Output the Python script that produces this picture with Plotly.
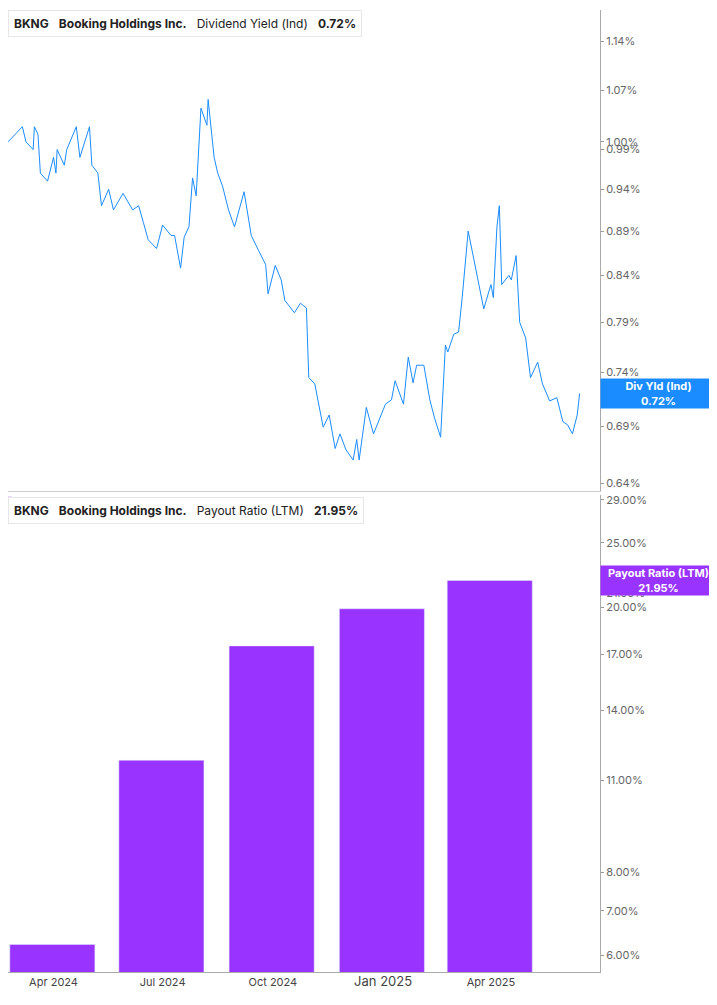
import math
import plotly.graph_objects as go
from plotly.subplots import make_subplots

# dividend yield (%)
yield_dates = [
    "2024-02-23", "2024-03-06", "2024-03-09", "2024-03-15", "2024-03-16", "2024-03-19", "2024-03-21",
    "2024-03-27", "2024-04-01", "2024-04-03", "2024-04-04", "2024-04-10", "2024-04-12", "2024-04-20",
    "2024-04-23", "2024-05-01", "2024-05-03", "2024-05-08", "2024-05-11", "2024-05-17", "2024-05-21",
    "2024-05-29", "2024-06-06", "2024-06-11", "2024-06-15", "2024-06-19", "2024-06-26", "2024-07-01",
    "2024-07-08", "2024-07-11", "2024-07-16", "2024-07-19", "2024-07-23", "2024-07-26", "2024-07-29",
    "2024-08-02", "2024-08-07", "2024-08-08", "2024-08-11", "2024-08-13", "2024-08-16", "2024-08-20",
    "2024-08-25", "2024-08-30", "2024-09-07", "2024-09-13", "2024-09-19", "2024-09-25", "2024-09-27",
    "2024-10-03", "2024-10-08", "2024-10-11", "2024-10-19", "2024-10-24", "2024-10-29", "2024-10-31",
    "2024-11-05", "2024-11-12", "2024-11-17", "2024-11-22", "2024-11-26", "2024-12-01", "2024-12-07",
    "2024-12-10", "2024-12-12", "2024-12-18", "2024-12-24", "2025-01-03", "2025-01-08", "2025-01-11",
    "2025-01-18", "2025-01-22", "2025-01-26", "2025-01-29", "2025-02-04", "2025-02-09", "2025-02-13",
    "2025-02-18", "2025-02-22", "2025-02-24", "2025-03-01", "2025-03-05", "2025-03-08", "2025-03-13",
    "2025-03-18", "2025-03-26", "2025-04-01", "2025-04-03", "2025-04-06", "2025-04-08", "2025-04-10",
    "2025-04-16", "2025-04-18", "2025-04-22", "2025-04-25", "2025-04-30", "2025-05-04", "2025-05-10",
    "2025-05-14", "2025-05-20", "2025-05-26", "2025-05-31", "2025-06-04", "2025-06-08", "2025-06-12",
    "2025-06-14",
]
yield_values = [
    1.000, 1.020, 1.000, 0.990, 1.020, 1.010, 0.960, 0.950, 0.980, 0.960, 0.990, 0.970, 0.990, 1.020,
    0.980, 1.020, 0.970, 0.960, 0.920, 0.940, 0.915, 0.935, 0.915, 0.920, 0.900, 0.880, 0.870, 0.897,
    0.885, 0.885, 0.848, 0.883, 0.895, 0.954, 0.932, 1.045, 1.022, 1.057, 1.010, 0.980, 0.960, 0.944,
    0.915, 0.895, 0.937, 0.885, 0.868, 0.852, 0.820, 0.851, 0.835, 0.813, 0.800, 0.810, 0.805, 0.735,
    0.729, 0.689, 0.700, 0.670, 0.683, 0.669, 0.660, 0.678, 0.660, 0.707, 0.683, 0.710, 0.714, 0.732,
    0.710, 0.755, 0.730, 0.747, 0.747, 0.714, 0.697, 0.680, 0.767, 0.760, 0.778, 0.780, 0.816, 0.890,
    0.856, 0.804, 0.830, 0.816, 0.895, 0.920, 0.830, 0.840, 0.835, 0.862, 0.790, 0.774, 0.735, 0.750,
    0.729, 0.713, 0.716, 0.694, 0.691, 0.683, 0.700, 0.720,
]

# payout ratio (LTM, %) by quarter
payout_dates = ["2024-03-31", "2024-06-30", "2024-09-30", "2024-12-31", "2025-03-31"]
payout_values = [6.23, 11.78, 17.5, 19.9, 21.95]

yield_ticks = [0.64, 0.69, 0.74, 0.79, 0.84, 0.89, 0.94, 0.99, 1.00, 1.07, 1.14]
payout_ticks = [6, 7, 8, 11, 14, 17, 20, 21, 25, 29]
x_ticks = ["2024-04-01", "2024-07-01", "2024-10-01", "2025-01-01", "2025-04-01"]
x_labels = ["Apr 2024", "Jul 2024", "Oct 2024", "<span style='font-size:13px'>Jan 2025</span>", "Apr 2025"]

last_yield = 0.72
last_payout = 21.95

blue = "#1a8cff"
purple = "#9933ff"
grey = "#666666"

fig = make_subplots(rows=2, cols=1, shared_xaxes=True, vertical_spacing=0.004,
                    row_heights=[0.502, 0.498])

fig.add_trace(go.Scatter(x=yield_dates, y=yield_values, mode="lines",
                         line=dict(color=blue, width=1)), row=1, col=1)
fig.add_trace(go.Bar(x=payout_dates, y=payout_values, marker_color=purple,
                     width=71 * 86400000), row=2, col=1)

axis_style = dict(type="log", side="right", showgrid=False, showline=True, linecolor="#aaaaaa",
                  ticks="outside", ticklen=3, tickcolor="#999999",
                  tickfont=dict(family="Inter", size=11, color=grey), zeroline=False)
fig.update_yaxes(**axis_style, tickvals=yield_ticks, ticktext=[f"{v:.2f}%" for v in yield_ticks],
                 range=[-0.198, 0.0748], row=1, col=1)
fig.update_yaxes(**axis_style, tickvals=payout_ticks, ticktext=[f"{v:.2f}%" for v in payout_ticks],
                 range=[0.753, 1.470], row=2, col=1)
fig.update_xaxes(range=["2024-02-23", "2025-07-01"], showgrid=False, zeroline=False)
fig.update_xaxes(showline=True, linecolor="#aaaaaa", tickvals=x_ticks, ticktext=x_labels,
                 tickfont=dict(family="Inter", size=11, color="#444444"), row=2, col=1)
fig.update_xaxes(showline=True, linecolor="#cccccc", row=1, col=1)

# legend boxes
fig.add_annotation(xref="paper", yref="paper", x=0.0, y=1.0, xanchor="left", yanchor="top",
                   text="<b>BKNG</b>   <b>Booking Holdings Inc.</b>   Dividend Yield (Ind)   <b>0.72%</b>",
                   showarrow=False, font=dict(family="Inter", size=12, color="#222222"),
                   bgcolor="white", bordercolor="#e6e6e6", borderwidth=1, borderpad=5)
fig.add_annotation(xref="paper", yref="paper", x=0.0, y=0.494, xanchor="left", yanchor="top",
                   text="<b>BKNG</b>   <b>Booking Holdings Inc.</b>   Payout Ratio (LTM)   <b>21.95%</b>",
                   showarrow=False, font=dict(family="Inter", size=12, color="#222222"),
                   bgcolor="white", bordercolor="#e6e6e6", borderwidth=1, borderpad=5)
fig.add_shape(type="rect", xref="paper", yref="paper", x0=0, x1=0.006, y0=0.9725, y1=1.0,
              fillcolor=blue, line_width=0)
fig.add_shape(type="rect", xref="paper", yref="paper", x0=0, x1=0.006, y0=0.4665, y1=0.494,
              fillcolor=purple, line_width=0)

# last value badges (log axes take log10 positions)
fig.add_annotation(xref="paper", yref="y", x=1.0, y=math.log10(last_yield), xanchor="left",
                   text=f"<b>Div Yld (Ind)<br>{last_yield:.2f}%</b>", showarrow=False,
                   width=113, height=27, font=dict(family="Inter", size=11, color="white"),
                   bgcolor=blue, borderpad=1)
fig.add_annotation(xref="paper", yref="y2", x=1.0, y=math.log10(last_payout), xanchor="left",
                   text=f"<b>Payout Ratio (LTM)<br>{last_payout:.2f}%</b>", showarrow=False,
                   width=113, height=27, font=dict(family="Inter", size=11, color="white"),
                   bgcolor=purple, borderpad=1)

fig.update_layout(width=709, height=997, margin=dict(l=0, r=117, t=0, b=33),
                  plot_bgcolor="white", paper_bgcolor="white", showlegend=False)

fig.write_html("out.html")
